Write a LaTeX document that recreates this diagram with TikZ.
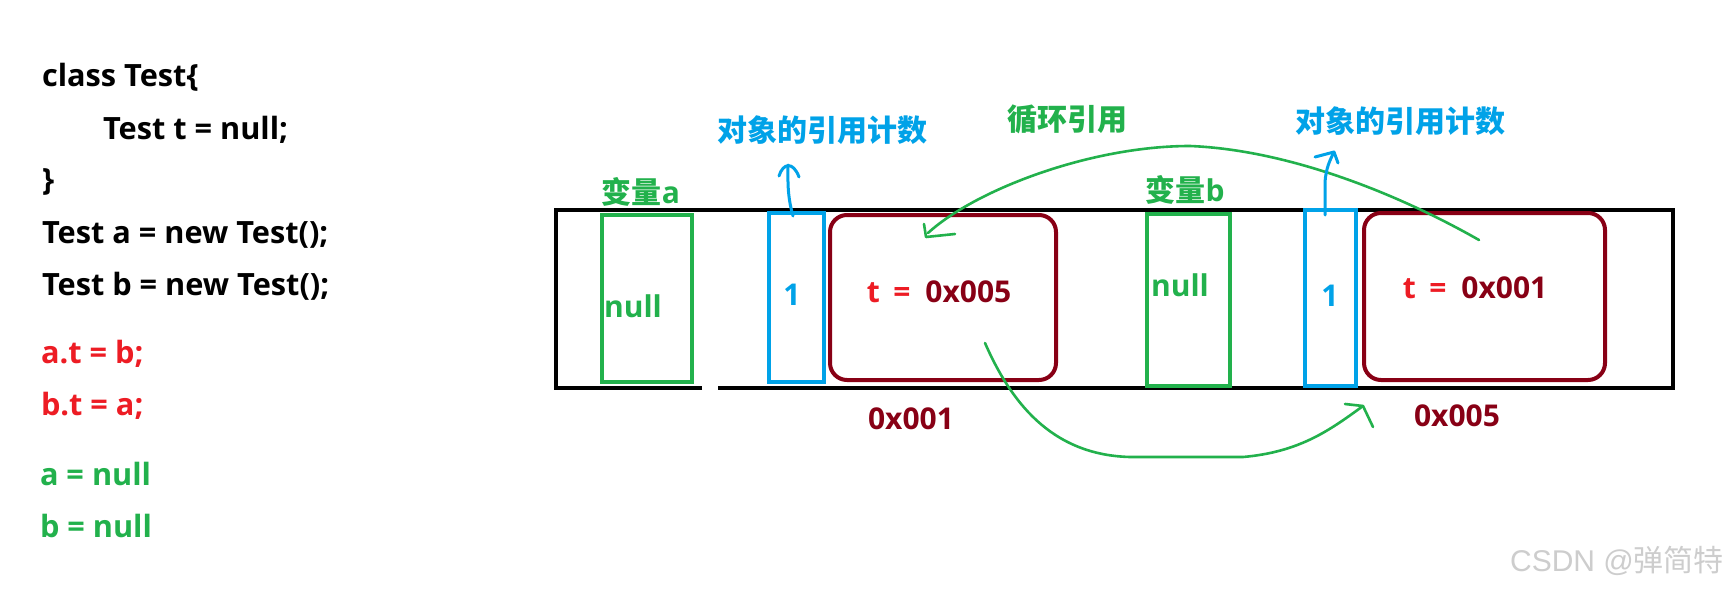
\documentclass[tikz,border=0pt]{standalone}
\usepackage{fontspec}
\setmainfont{Open Sans}
\newfontfamily\cjk{Noto Sans CJK SC}
\newfontfamily\wmfont{Liberation Sans}
\definecolor{pgreen}{RGB}{34,177,76}
\definecolor{pblue}{RGB}{0,162,232}
\definecolor{pdred}{RGB}{136,0,21}
\definecolor{pred}{RGB}{237,28,36}
\definecolor{wmgray}{RGB}{205,205,205}
\begin{document}
\begin{tikzpicture}[x=1pt,y=-1pt,
  txt/.style={font=\fontsize{30}{36}\selectfont\bfseries, inner sep=0pt, outer sep=0pt},
  cjktxt/.style={font=\fontsize{30}{36}\selectfont\cjk\bfseries, inner sep=0pt, outer sep=0pt},
  code/.style={txt, font=\fontsize{30.7}{36}\selectfont\bfseries, anchor=base west},
  box/.style={line width=4pt},
  curve/.style={draw=pgreen, line width=2.6pt, line cap=round, line join=round},
  barrow/.style={draw=pblue, line width=3pt, line cap=round, line join=round}]
\useasboundingbox[fill=white] (0,0) rectangle (1732,591);

% code
\node[code] (l1) at (42,87) {class Test\{};
\node[code] (l2) at (103,140) {Test t = null;};
\node[code] (l3) at (42,190) {\}};
\node[code] (l4) at (42,243) {Test a = new Test();};
\node[code] (l5) at (42,295) {Test b = new Test();};
\node[code, text=pred] (l6) at (41,363) {a.t = b;};
\node[code, text=pred] (l7) at (41,415) {b.t = a;};
\node[code, text=pgreen] (l8) at (40,485) {a = null};
\node[code, text=pgreen] (l9) at (40,537) {b = null};

% outer memory strip (with small gap in bottom line)
\draw[line width=4.5pt, line join=miter] (702,388) -- (556,388) -- (556,210) -- (1673,210) -- (1673,388) -- (718,388);

% boxes
\draw[box, draw=pgreen] (602,215) rectangle (692,382);
\draw[box, draw=pblue] (769,213) rectangle (824,382);
\draw[box, draw=pdred, rounded corners=17pt] (830,215) rectangle (1056,380);
\draw[box, draw=pgreen] (1147,214) rectangle (1230,386);
\draw[box, draw=pblue] (1305,210) rectangle (1356,386);
\draw[box, draw=pdred, rounded corners=17pt] (1364,213) rectangle (1605,380);

% texts
\node[txt, text=pgreen, anchor=base] (nulla) at (633,317) {null};
\node[txt, text=pgreen, anchor=base] (nullb) at (1180,296) {null};
\node[txt, text=pblue, anchor=base] (onea) at (792,305) {1};
\node[txt, text=pblue, anchor=base] (oneb) at (1330,306) {1};
\node[txt, anchor=base] (ta) at (939,302) {\textcolor{pred}{t\hspace{0.45em}=}\hspace{0.5em}\textcolor{pdred}{0x005}};
\node[txt, anchor=base] (tb) at (1475,298) {\textcolor{pred}{t\hspace{0.45em}=}\hspace{0.5em}\textcolor{pdred}{0x001}};
\node[txt, text=pdred, anchor=base] (addra) at (911,429) {0x001};
\node[txt, text=pdred, anchor=base] (addrb) at (1457,426) {0x005};
\node[cjktxt, text=pblue] (rca) at (822,130) {对象的引用计数};
\node[cjktxt, text=pblue] (rcb) at (1400,121) {对象的引用计数};
\node[cjktxt, text=pgreen] (cyc) at (1067,119) {循环引用};
\node[txt, text=pgreen] (va) at (641,192) {{\cjk 变量}a};
\node[txt, text=pgreen] (vb) at (1185,190) {{\cjk 变量}b};
\node[font=\fontsize{30}{36}\selectfont\wmfont, text=wmgray, inner sep=0pt] (wm) at (1617,561) {CSDN @{\cjk 弹简特}};

% connector end points
\coordinate (bs) at (1479,240);
\coordinate (be) at (928,233);
\coordinate (cs) at (985,343);
\coordinate (ce) at (1363,406);
\coordinate (as) at (793,216);
\coordinate (ae) at (788,165);
\coordinate (ds) at (1325,215);
\coordinate (de) at (1334,152);

% green circular reference curves
\draw[curve] (bs) .. controls (1400,195) and (1290,150) .. (1190,146)
  .. controls (1090,146) and (975,190) .. (be);
\draw[curve] (924,224) -- (926,237) -- (955,234);
\draw[curve] (cs) .. controls (1010,400) and (1050,455) .. (1130,457)
  -- (1243,457) .. controls (1300,452) and (1330,430) .. (ce);
\draw[curve] (1345,404) -- (ce) -- (1373,427);

% blue arrows
\draw[barrow] (as) .. controls (787,195) and (788,180) .. (ae);
\draw[barrow] (779,176) .. controls (783,163) and (793,161) .. (799,177);
\draw[barrow] (ds) -- (1325,182) .. controls (1326,168) and (1330,160) .. (de);
\draw[barrow] (1315,157) -- (de) -- (1338,163);
\end{tikzpicture}
\end{document}
